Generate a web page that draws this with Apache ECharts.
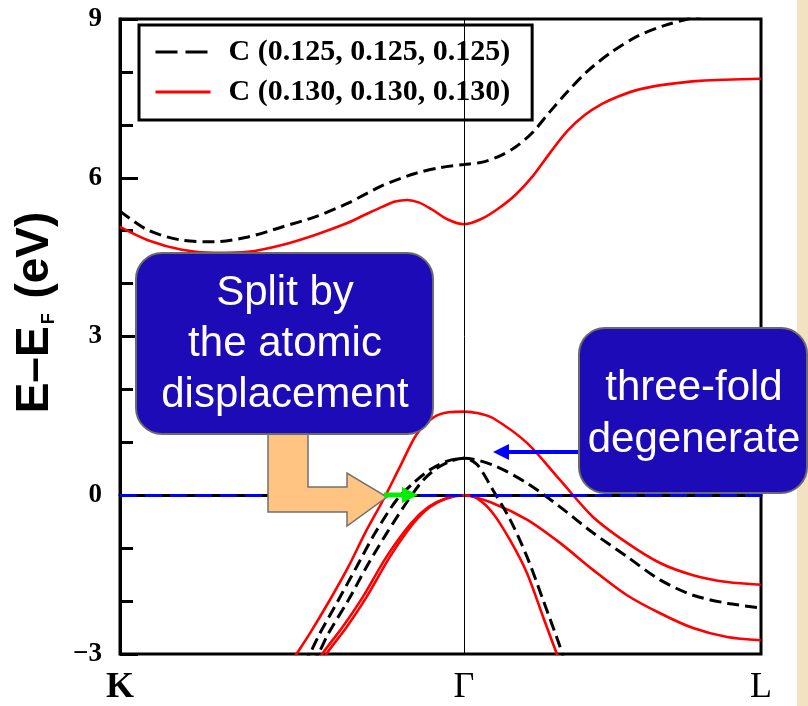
<!DOCTYPE html>
<html><head><meta charset="utf-8">
<script src="https://cdn.jsdelivr.net/npm/echarts@6/dist/echarts.min.js"></script>
<style>html,body{margin:0;padding:0;background:#fff}#c{width:808px;height:706px}</style>
</head><body><div id="c"></div>
<script>
// k-path positions of the high-symmetry points and their labels
const kTickValues = [0, 1, 1.8634];
const kTickLabels = ['K', 'Γ', 'L'];
const eMin = -3, eMax = 9, eStep = 3;

const name125 = 'C (0.125, 0.125, 0.125)';
const name130 = 'C (0.130, 0.130, 0.130)';

// C (0.125,0.125,0.125) bands  [k, E-EF]
const c125_cond = [[0,5.37],[0.081,5.01],[0.180,4.82],[0.276,4.79],[0.372,4.88],[0.471,5.07],[0.567,5.26],[0.663,5.52],[0.762,5.85],[0.858,6.08],[0.93,6.19],[1.0,6.25],[1.05,6.29],[1.10,6.40],[1.15,6.58],[1.20,6.86],[1.25,7.25],[1.30,7.62],[1.36,8.02],[1.43,8.38],[1.506,8.68],[1.584,8.88],[1.651,9.0],[1.75,9.15],[1.863,9.22]];
const c125_v1 = [[0.53,-3.2],[0.552,-2.99],[0.581,-2.61],[0.635,-1.98],[0.688,-1.35],[0.741,-0.72],[0.804,-0.09],[0.853,0.23],[0.901,0.48],[0.949,0.64],[1.0,0.70],[1.084,0.57],[1.183,0.23],[1.279,-0.22],[1.375,-0.71],[1.474,-1.16],[1.570,-1.60],[1.666,-1.89],[1.765,-2.04],[1.863,-2.13]];
const c125_v2 = [[0.555,-3.2],[0.577,-2.99],[0.606,-2.61],[0.664,-1.98],[0.717,-1.35],[0.775,-0.72],[0.838,-0.09],[0.882,0.29],[0.921,0.51],[0.959,0.64],[1.0,0.70],[1.038,0.58],[1.084,0.10],[1.134,-0.46],[1.183,-1.16],[1.230,-1.98],[1.279,-2.86],[1.29,-3.1]];

// C (0.130,0.130,0.130) bands
const c130_cond = [[0,5.07],[0.081,4.82],[0.180,4.64],[0.276,4.58],[0.372,4.60],[0.471,4.73],[0.567,4.92],[0.663,5.15],[0.712,5.30],[0.762,5.45],[0.80,5.55],[0.835,5.58],[0.87,5.53],[0.907,5.40],[0.953,5.21],[1.0,5.12],[1.05,5.22],[1.10,5.42],[1.15,5.68],[1.20,6.03],[1.25,6.47],[1.30,6.88],[1.35,7.18],[1.40,7.39],[1.45,7.54],[1.51,7.67],[1.584,7.76],[1.686,7.83],[1.863,7.87]];
const c130_v1 = [[0.49,-3.23],[0.514,-2.99],[0.552,-2.61],[0.610,-1.98],[0.664,-1.35],[0.712,-0.72],[0.765,-0.09],[0.814,0.54],[0.862,1.15],[0.911,1.47],[0.955,1.57],[1.0,1.58],[1.042,1.55],[1.084,1.46],[1.183,0.99],[1.279,0.29],[1.375,-0.41],[1.474,-0.90],[1.570,-1.28],[1.666,-1.51],[1.765,-1.64],[1.863,-1.69]];
const c130_v2 = [[0.585,-3.2],[0.601,-2.99],[0.659,-2.49],[0.717,-1.92],[0.785,-1.16],[0.853,-0.53],[0.901,-0.22],[0.949,-0.06],[1.0,0],[1.084,-0.15],[1.183,-0.46],[1.279,-0.90],[1.375,-1.41],[1.474,-1.89],[1.570,-2.23],[1.666,-2.51],[1.765,-2.68],[1.863,-2.74]];
const c130_v3 = [[0.573,-3.2],[0.589,-2.99],[0.647,-2.49],[0.706,-1.92],[0.775,-1.16],[0.846,-0.53],[0.897,-0.22],[0.947,-0.06],[1.0,0],[1.038,-0.06],[1.084,-0.34],[1.134,-0.85],[1.183,-1.47],[1.230,-2.30],[1.270,-3.0],[1.28,-3.15]];

const fermiLevel = 0;
const gammaK = 1;

const redBands = [c130_cond, c130_v1, c130_v2, c130_v3];
const blackBands = [c125_cond, c125_v1, c125_v2];

const chart = echarts.init(document.getElementById('c'));
const serif = '"Liberation Serif","Times New Roman",serif';
const sans = '"Liberation Sans",Arial,sans-serif';

const series = [];
redBands.forEach(d => series.push({
  name: name130, type: 'line', data: d, symbol: 'none', smooth: 0.3, clip: true,
  lineStyle: {color: '#ff0000', width: 2.6}, itemStyle: {color: '#ff0000'}, z: 2
}));
blackBands.forEach(d => series.push({
  name: name125, type: 'line', data: d, symbol: 'none', smooth: 0.3, clip: true,
  lineStyle: {color: '#000', width: 3, type: [12, 6]}, itemStyle: {color: '#000'}, z: 3
}));
series.push({
  name: 'ref', type: 'line', data: [], symbol: 'none', z: 4,
  markLine: {
    silent: true, symbol: ['none', 'none'], label: {show: false},
    data: [
      {xAxis: gammaK, lineStyle: {color: '#000', width: 1, type: 'solid'}},
      {yAxis: fermiLevel, lineStyle: {color: '#0000ff', width: 3, type: [17, 8]}}
    ]
  }
});

const option = {
  backgroundColor: '#fff',
  animation: false,
  grid: {left: 120, top: 19, right: 47, bottom: 52, show: true, borderColor: '#000', borderWidth: 3, backgroundColor: 'transparent'},
  legend: {
    left: 139, top: 25, orient: 'vertical', selectedMode: false,
    padding: [12, 22, 13, 15], itemGap: 10, itemWidth: 55, itemHeight: 30,
    borderColor: '#000', borderWidth: 3, backgroundColor: 'transparent',
    textStyle: {fontFamily: serif, fontWeight: 'bold', fontSize: 30, color: '#000', padding: [0, 0, 0, 13]},
    data: [
      {name: name125, lineStyle: {type: [22, 8], width: 3, color: '#000'}, itemStyle: {opacity: 0}},
      {name: name130, lineStyle: {width: 3, color: '#ff0000'}, itemStyle: {opacity: 0}}
    ]
  },
  xAxis: {
    type: 'value', min: kTickValues[0], max: kTickValues[2],
    splitLine: {show: false},
    axisLine: {show: true, lineStyle: {color: '#000', width: 3}},
    axisTick: {show: false},
    axisLabel: {
      customValues: kTickValues, showMinLabel: true, showMaxLabel: true, margin: 16,
      formatter: v => {
        const i = kTickValues.findIndex(t => Math.abs(t - v) < 1e-6);
        const s = i >= 0 ? kTickLabels[i] : '';
        return i === 0 ? '{b|' + s + '}' : '{n|' + s + '}';
      },
      rich: {
        b: {fontFamily: serif, fontWeight: 'bold', fontSize: 36, color: '#000'},
        n: {fontFamily: serif, fontWeight: 'normal', fontSize: 36, color: '#000'}
      }
    }
  },
  yAxis: {
    type: 'value', min: eMin, max: eMax, interval: eStep,
    splitLine: {show: false},
    axisLine: {show: true, lineStyle: {color: '#000', width: 3}},
    axisTick: {show: true, inside: true, length: 18, lineStyle: {color: '#000', width: 3}},
    minorTick: {show: true, splitNumber: 3, length: 13, lineStyle: {color: '#000', width: 3}},
    axisLabel: {
      margin: 18, color: '#000', fontFamily: serif, fontWeight: 'bold', fontSize: 27,
      formatter: v => v < 0 ? '\u2212' + Math.abs(v) : String(v)
    },
    name: '{a|E\u2013E}{s|F}{a| (eV)}', nameLocation: 'middle', nameRotate: 90, nameGap: 62,
    nameTextStyle: {
      padding: [0, 0, 0, 48],
      rich: {
        a: {fontFamily: sans, fontWeight: 'bold', fontSize: 46, color: '#000', lineHeight: 46},
        s: {fontFamily: sans, fontWeight: 'bold', fontSize: 18, color: '#000', lineHeight: 46, verticalAlign: 'bottom', padding: [0, 2, 0, 2]}
      }
    }
  },
  series: series,
  graphic: [
    {type: 'rect', z: 50, shape: {x: 797, y: 0, width: 11, height: 706}, style: {fill: '#f2e2c2'}},
    {type: 'polygon', z: 60, shape: {points: [[268,430],[308,430],[308,487],[347,487],[347,473],[387,497],[347,526],[347,512],[268,512]]},
      style: {fill: '#ffc382', stroke: '#707070', lineWidth: 1.5}},
    {type: 'rect', z: 70, shape: {x: 136, y: 253, width: 297, height: 181, r: 26},
      style: {fill: '#1d0bb8', stroke: '#6a6a6a', lineWidth: 2}},
    {type: 'text', z: 71, style: {text: 'Split by\nthe atomic\ndisplacement', x: 285, y: 344, align: 'center', verticalAlign: 'middle',
      fill: '#fff', fontFamily: sans, fontSize: 42, lineHeight: 51}},
    {type: 'rect', z: 70, shape: {x: 579, y: 328, width: 228, height: 165, r: 26},
      style: {fill: '#1d0bb8', stroke: '#6a6a6a', lineWidth: 2}},
    {type: 'text', z: 71, style: {text: 'three-fold\ndegenerate', x: 694, y: 414, align: 'center', verticalAlign: 'middle',
      fill: '#fff', fontFamily: sans, fontSize: 42, lineHeight: 52}},
    {type: 'line', z: 65, shape: {x1: 579, y1: 452, x2: 506, y2: 452}, style: {stroke: '#0000ff', lineWidth: 4}},
    {type: 'polygon', z: 65, shape: {points: [[493,452],[509,444],[509,460]]}, style: {fill: '#0000ff'}},
    {type: 'line', z: 65, shape: {x1: 384, y1: 495, x2: 404, y2: 495}, style: {stroke: '#00ee00', lineWidth: 5}},
    {type: 'polygon', z: 65, shape: {points: [[418,495],[402,487],[402,503]]}, style: {fill: '#00ee00'}}
  ]
};
chart.setOption(option);
</script>
</body></html>
